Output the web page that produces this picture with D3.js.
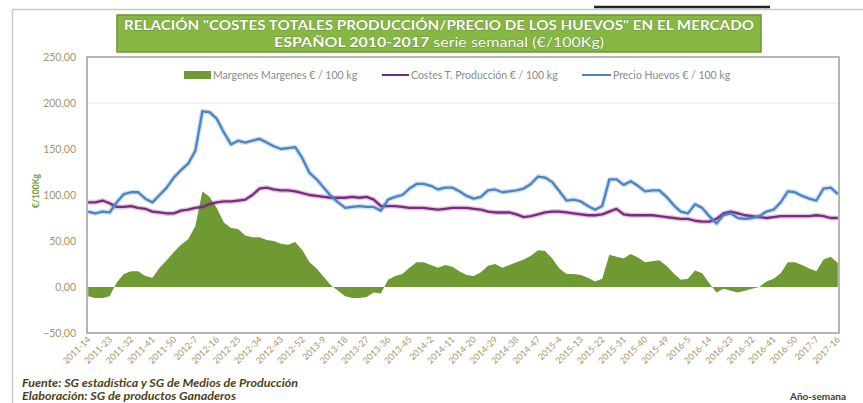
<!DOCTYPE html>
<html>
<head>
<meta charset="utf-8">
<script src="https://cdn.jsdelivr.net/npm/d3@7"></script>
<style>
body { margin:0; background:#fff; }
svg { display:block; font-family: Lato, "Open Sans", sans-serif; }
</style>
</head>
<body>
<svg id="graph"></svg>
<script>
//weekly data, one value every 3 weeks starting at 2011-14
var step = 3

var tickLabels = ["2011-14","2011-23","2011-32","2011-41","2011-50","2012-7","2012-16","2012-25","2012-34",
	"2012-43","2012-52","2013-9","2013-18","2013-27","2013-36","2013-45","2014-2","2014-11","2014-20",
	"2014-29","2014-38","2014-47","2015-4","2015-13","2015-22","2015-31","2015-40","2015-49","2016-5",
	"2016-14","2016-23","2016-32","2016-41","2016-50","2017-7","2017-16"]

var price = [82,80,82,81,92,101,103,103,96,92,
	100,108,119,127,134,148,191,190,183,168,
	155,159,157,159,161,157,153,150,151,152,
	140,124,117,108,99,92,86,87,88,87,
	87,83,95,98,100,107,112,112,110,106,
	108,108,104,99,96,98,105,106,103,104,
	105,107,112,120,119,114,104,94,95,93,
	88,84,88,117,117,111,115,110,104,105,
	105,98,89,82,80,90,86,77,69,78,
	80,75,74,75,77,82,84,92,104,103,
	99,96,94,107,108,101]

var cost = [92,92,94,91,87,87,88,86,85,82,
	81,80,80,83,84,86,87,90,92,93,
	93,94,95,100,107,108,106,105,105,104,
	102,100,99,98,97,97,97,98,97,98,
	95,88,88,88,87,86,86,86,85,84,
	85,86,86,86,85,84,82,81,81,81,
	79,76,77,79,81,82,82,81,80,79,
	78,78,79,82,85,79,78,78,78,78,
	77,76,75,74,74,72,71,71,74,80,
	82,80,78,77,76,75,76,77,77,77,
	77,77,78,77,75,75]

var margin = [-10,-12,-12,-10,5,14,17,17,12,10,
	21,29,38,46,52,66,104,98,86,70,
	64,63,56,54,54,51,50,47,46,49,
	40,27,20,11,2,-4,-10,-12,-12,-11,
	-6,-7,8,12,14,21,27,27,24,21,
	24,22,17,13,12,16,23,25,21,24,
	27,30,34,40,39,31,20,14,14,13,
	10,6,9,35,33,31,36,32,27,28,
	29,23,15,8,9,18,15,4,-6,-2,
	-4,-6,-4,-2,0,6,9,15,27,27,
	24,20,17,30,33,26]

var yTicks = [-50,0,50,100,150,200,250]

var svg = d3.select('#graph')
	.attr('width',863)
	.attr('height',403)

//plot box
var plot = {left:87, right:839, top:57, bottom:333}

var x = d3.scaleLinear().domain([-0.5, 315.5]).range([plot.left, plot.right])
var y = d3.scaleLinear().domain([-50, 250]).range([plot.bottom, plot.top])

var fmt = function(v){ return d3.format('.2f')(v).replace('.', ',') }

//page frame (scan)
svg.append('line').attr('x1',12).attr('x2',863).attr('y1',9.5).attr('y2',9.5)
	.attr('stroke','#c9c9c4').attr('stroke-width',1.5)
svg.append('line').attr('x1',12.5).attr('x2',12.5).attr('y1',9).attr('y2',403)
	.attr('stroke','#c9c9c4').attr('stroke-width',1.5)
svg.append('line').attr('x1',594).attr('x2',770).attr('y1',7).attr('y2',7)
	.attr('stroke','#222').attr('stroke-width',2.5)

//title box
svg.append('rect')
	.attr('x',117).attr('y',15).attr('width',644).attr('height',37)
	.attr('fill','#86b743').attr('stroke','#6a9630').attr('stroke-width',1.5)

var title = svg.append('text')
	.attr('text-anchor','middle')
	.attr('fill','#fff')
	.attr('stroke','rgba(60,85,25,0.45)').attr('stroke-width',0.8)
	.attr('paint-order','stroke')
	.style('font-size','13px').style('font-weight','bold')

title.append('tspan').attr('x',439).attr('y',30)
	.attr('textLength',630).attr('lengthAdjust','spacingAndGlyphs')
	.text('RELACIÓN "COSTES TOTALES PRODUCCIÓN/PRECIO DE LOS HUEVOS" EN EL MERCADO')
var t2 = title.append('tspan').attr('x',439).attr('y',47)
	.attr('textLength',330).attr('lengthAdjust','spacingAndGlyphs')
t2.append('tspan').text('ESPAÑOL 2010-2017 ')
t2.append('tspan').style('font-weight','normal').text('serie semanal (€/100Kg)')

//gridline
svg.append('line')
	.attr('x1',plot.left).attr('x2',plot.right)
	.attr('y1',y(200)).attr('y2',y(200))
	.attr('stroke','#e6e6e6').attr('stroke-width',1)

//margin area
var area = d3.area()
	.x(function(d,i){ return x(i*step) })
	.y0(y(0))
	.y1(function(d){ return y(d) })

svg.append('path')
	.datum(margin)
	.attr('d',area)
	.attr('fill','#6f9a33')

//lines with a soft scan halo
function drawLine(data, color){
	var line = d3.line()
		.x(function(d,i){ return x(i*step) })
		.y(function(d){ return y(d) })
	svg.append('path').datum(data).attr('d',line)
		.attr('fill','none').attr('stroke',color).attr('stroke-opacity',0.25)
		.attr('stroke-width',5).attr('stroke-linejoin','round')
	svg.append('path').datum(data).attr('d',line)
		.attr('fill','none').attr('stroke',color)
		.attr('stroke-width',2.3).attr('stroke-linejoin','round')
}
drawLine(cost,'#7b2a7e')
drawLine(price,'#4a84c3')

svg.append('rect')
	.attr('x',plot.left).attr('y',plot.top)
	.attr('width',plot.right-plot.left).attr('height',plot.bottom-plot.top)
	.attr('fill','none').attr('stroke','#9d9d9a').attr('stroke-width',1.5)

//y axis labels
svg.append('g').selectAll('text')
	.data(yTicks)
	.enter()
	.append('text')
	.attr('x',76)
	.attr('y',function(d){ return y(d)+3.5 })
	.attr('text-anchor','end')
	.attr('fill','#a3946c')
	.style('font-size','10.5px')
	.text(function(d){ return fmt(d) })

svg.append('text')
	.attr('transform','translate(39,191) rotate(-90)')
	.attr('text-anchor','middle')
	.attr('fill','#6f9a33')
	.style('font-size','8.5px').style('font-weight','bold')
	.text('€/100Kg')

//x axis labels
svg.append('g').selectAll('text')
	.data(tickLabels)
	.enter()
	.append('text')
	.attr('transform',function(d,i){
		return 'translate('+(x(i*9)+3)+',340) rotate(-45)'
	})
	.attr('text-anchor','end')
	.attr('fill','#a8976a')
	.style('font-size','9px')
	.text(function(d){ return d })

//legend
var legend = svg.append('g').style('font-size','10.5px').attr('fill','#8a8a8a')
legend.append('rect').attr('x',184).attr('y',71).attr('width',27).attr('height',8).attr('fill','#6f9a33')
legend.append('text').attr('x',213).attr('y',78.5).text('Margenes Margenes € / 100 kg')
legend.append('line').attr('x1',382).attr('x2',409).attr('y1',75).attr('y2',75)
	.attr('stroke','#7b2a7e').attr('stroke-width',2)
legend.append('text').attr('x',411).attr('y',78.5).text('Costes T. Producción € / 100 kg')
legend.append('line').attr('x1',582).attr('x2',611).attr('y1',75).attr('y2',75)
	.attr('stroke','#4a84c3').attr('stroke-width',2)
legend.append('text').attr('x',613).attr('y',78.5).text('Precio Huevos € / 100 kg')

//footer
var foot = svg.append('g')
	.attr('fill','#4d3f14')
	.style('font-size','10.5px').style('font-weight','bold').style('font-style','italic')
foot.append('text').attr('x',22).attr('y',387)
	.attr('textLength',276).attr('lengthAdjust','spacingAndGlyphs')
	.text('Fuente: SG estadística y SG de Medios de Producción')
foot.append('text').attr('x',22).attr('y',400)
	.attr('textLength',214).attr('lengthAdjust','spacingAndGlyphs')
	.text('Elaboración: SG de productos Ganaderos')

svg.append('text')
	.attr('x',846).attr('y',400)
	.attr('text-anchor','end')
	.attr('fill','#3a3a3a')
	.style('font-size','10px').style('font-weight','bold')
	.text('Año-semana')
</script>
</body>
</html>
